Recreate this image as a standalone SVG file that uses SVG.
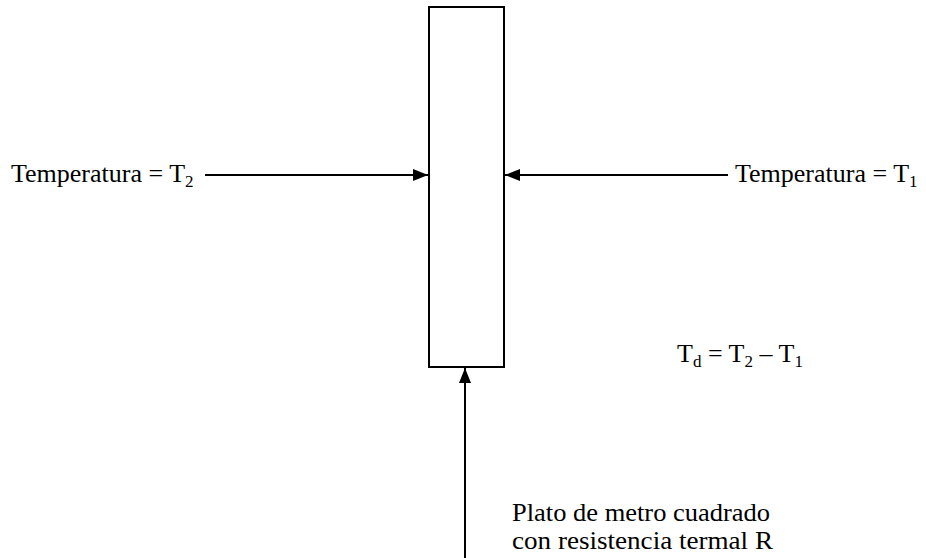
<svg xmlns="http://www.w3.org/2000/svg" width="926" height="558" viewBox="0 0 926 558">
<style>
text { font-family: "Liberation Serif", "Times New Roman", serif; font-size: 26px; fill: #000; }
.sub { font-size: 17px; }
.note { font-size: 24.5px; }
.ln { stroke: #000; stroke-width: 2; fill: none; }
</style>
<defs>
<marker id="ah" markerWidth="16" markerHeight="12" refX="15" refY="6" orient="auto" markerUnits="userSpaceOnUse">
<path d="M0,0 L15,6 L0,12 Z" fill="#000"/>
</marker>
</defs>
<rect width="926" height="558" fill="#fff"/>
<g id="plate">
<rect x="429" y="7" width="75" height="360" fill="#fff" stroke="#000" stroke-width="2"/>
</g>
<g id="connectors">
<line class="ln" x1="205" y1="175" x2="428" y2="175" marker-end="url(#ah)"/>
<line class="ln" x1="728" y1="175" x2="505" y2="175" marker-end="url(#ah)"/>
<line class="ln" x1="465" y1="558" x2="465" y2="368" marker-end="url(#ah)"/>
</g>
<g id="label-t2">
<text x="11" y="182">Temperatura = T<tspan class="sub" dy="5">2</tspan></text>
</g>
<g id="label-t1">
<text x="735" y="182">Temperatura = T<tspan class="sub" dy="5">1</tspan></text>
</g>
<g id="label-td">
<text x="677" y="362">T<tspan class="sub" dy="5">d</tspan><tspan dy="-5"> = T</tspan><tspan class="sub" dy="5">2</tspan><tspan dy="-5"> – T</tspan><tspan class="sub" dy="5">1</tspan></text>
</g>
<g id="label-plate">
<text class="note" x="512" y="521" textLength="258" lengthAdjust="spacingAndGlyphs">Plato de metro cuadrado</text>
<text class="note" x="512" y="549" textLength="261" lengthAdjust="spacingAndGlyphs">con resistencia termal R</text>
</g>
</svg>
